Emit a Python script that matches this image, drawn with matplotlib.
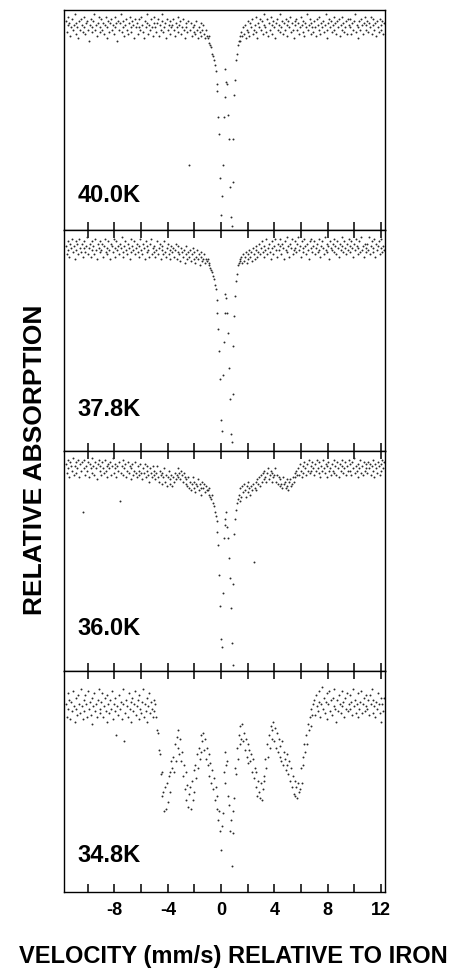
import numpy as np
import matplotlib
matplotlib.use("Agg")
from matplotlib import pyplot as plt

plt.rcParams['font.family'] = ['Liberation Sans', 'DejaVu Sans']
plt.rcParams['axes.unicode_minus'] = False

# velocity channels (mm/s): first channel and step
v_start = -11.65
v_step = 0.0665

temperatures = ['40.0K', '37.8K', '36.0K', '34.8K']

# relative transmission, % of panel height
t_400 = [
    96, 91, 94, 98, 95, 89, 93, 97, 92, 94, 99, 90, 95, 93, 88, 96, 92, 97, 94, 91,
    93, 98, 90, 95, 96, 92, 87, 94, 97, 93, 91, 96, 99, 92, 94, 89, 95, 98, 91, 93,
    97, 92, 95, 90, 94, 98, 93, 88, 96, 91, 95, 97, 92, 94, 90, 98, 93, 95, 87, 96,
    92, 95, 99, 91, 93, 96, 89, 94, 97, 92, 90, 95, 98, 93, 91, 96, 94, 88, 97, 93,
    95, 90, 93, 97, 92, 98, 94, 91, 88, 96, 93, 95, 99, 90, 94, 92, 97, 93, 89, 95,
    98, 93, 91, 95, 97, 89, 94, 92, 96, 99, 91, 93, 95, 88, 97, 92, 94, 96, 90, 93,
    94, 97, 92, 89, 95, 93, 98, 91, 94, 96, 90, 93, 97, 92, 88, 95, 93, 91, 96, 30,
    92, 95, 89, 93, 91, 94, 90, 96, 92, 88, 93, 91, 95, 89, 92, 94, 90, 88, 92, 89,
    88, 86, 89, 85, 84, 81, 80, 78, 76, 73, 67, 64, 52, 44, 24, 7, 16, 30, 52, 61,
    74, 68, 67, 53, 42, 20, 6, 2, 22, 42, 62, 69, 78, 81, 85, 87, 89, 87, 91, 89,
    93, 90, 94, 88, 92, 96, 91, 89, 95, 93, 97, 90, 92, 94, 98, 91, 88, 95, 93, 97,
    92, 96, 90, 94, 99, 93, 91, 97, 89, 95, 92, 98, 94, 90, 96, 93, 88, 95, 97, 92,
    94, 99, 91, 93, 96, 90, 95, 92, 97, 94, 89, 96, 93, 98, 91, 95, 92, 88, 96, 94,
    97, 92, 95, 90, 93, 98, 94, 91, 96, 89, 95, 93, 99, 92, 94, 97, 90, 95, 93, 91,
    96, 93, 89, 97, 94, 92, 98, 90, 95, 93, 96, 91, 94, 99, 92, 88, 95, 97, 93, 96,
    91, 94, 98, 92, 95, 90, 96, 93, 97, 89, 94, 92, 98, 95, 91, 93, 96, 90, 97, 94,
    93, 97, 90, 95, 92, 96, 99, 91, 94, 93, 88, 96, 92, 97, 94, 90, 95, 98, 92, 94,
    96, 91, 95, 93, 98, 90, 94, 97, 92, 95, 89, 96, 93, 91, 97, 94, 92, 96, 90, 95,
]

t_378 = [
    94, 90, 96, 92, 89, 95, 93, 97, 91, 94, 88, 96, 92, 95, 90, 97, 93, 91, 95, 89,
    93, 96, 91, 94, 98, 90, 93, 95, 89, 92, 96, 94, 90, 97, 92, 88, 95, 93, 91, 96,
    92, 95, 89, 94, 97, 91, 93, 90, 96, 92, 88, 95, 94, 91, 97, 93, 89, 96, 92, 94,
    90, 95, 93, 98, 91, 89, 94, 96, 92, 90, 95, 93, 88, 97, 91, 94, 92, 96, 90, 93,
    95, 91, 89, 94, 97, 92, 90, 95, 93, 88, 96, 91, 94, 92, 89, 95, 97, 90, 93, 91,
    94, 89, 92, 96, 90, 93, 95, 88, 92, 94, 90, 96, 91, 89, 93, 95, 90, 92, 88, 94,
    91, 93, 89, 92, 95, 88, 91, 94, 90, 87, 93, 91, 89, 92, 86, 90, 94, 88, 91, 89,
    92, 87, 90, 93, 88, 91, 86, 89, 92, 88, 90, 85, 89, 91, 87, 88, 90, 86, 88, 87,
    88, 86, 85, 84, 83, 82, 80, 79, 76, 74, 69, 63, 56, 46, 33, 14, 9, 35, 50, 63,
    72, 70, 63, 54, 38, 24, 8, 4, 26, 48, 62, 71, 78, 81, 85, 86, 87, 88, 89, 86,
    90, 87, 89, 91, 86, 90, 88, 92, 89, 91, 87, 93, 90, 88, 92, 94, 89, 91, 95, 90,
    93, 96, 91, 89, 94, 92, 97, 90, 93, 95, 91, 88, 96, 93, 90, 94, 97, 92, 89, 95,
    92, 97, 94, 90, 95, 93, 88, 96, 92, 98, 91, 94, 89, 95, 93, 97, 90, 92, 96, 93,
    91, 95, 98, 92, 94, 89, 96, 93, 91, 97, 94, 90, 95, 92, 88, 96, 93, 97, 91, 94,
    96, 90, 93, 95, 91, 97, 92, 89, 94, 96, 93, 90, 98, 92, 95, 91, 94, 88, 96, 93,
    92, 95, 97, 91, 94, 90, 96, 93, 89, 95, 92, 98, 94, 91, 96, 93, 90, 95, 92, 97,
    94, 91, 96, 93, 89, 95, 92, 97, 94, 90, 93, 96, 91, 98, 92, 94, 89, 95, 93, 91,
    95, 92, 98, 90, 94, 96, 91, 93, 97, 89, 95, 92, 94, 96, 90, 93, 97, 91, 94, 92,
]

t_360 = [
    95, 91, 97, 93, 89, 96, 94, 92, 98, 90, 94, 96, 91, 93, 97, 89, 95, 92, 96, 73,
    93, 97, 90, 94, 92, 96, 89, 95, 93, 98, 91, 94, 90, 96, 93, 88, 95, 97, 92, 94,
    90, 96, 93, 91, 97, 92, 94, 89, 95, 93, 96, 90, 94, 98, 91, 93, 95, 89, 94, 92,
    96, 78, 91, 94, 97, 90, 93, 95, 89, 92, 96, 91, 94, 88, 93, 95, 90, 92, 96, 91,
    89, 94, 92, 90, 95, 91, 88, 93, 91, 95, 89, 92, 94, 90, 87, 93, 91, 89, 94, 90,
    92, 88, 91, 94, 89, 87, 92, 90, 86, 91, 89, 93, 87, 90, 85, 89, 92, 86, 88, 90,
    85, 89, 87, 91, 88, 90, 93, 89, 91, 88, 92, 90, 87, 91, 89, 86, 88, 85, 89, 84,
    87, 83, 86, 89, 84, 87, 82, 86, 85, 88, 83, 86, 84, 81, 87, 84, 86, 82, 85, 83,
    83, 81, 84, 80, 79, 81, 77, 76, 73, 71, 69, 64, 58, 44, 30, 15, 11, 36, 61, 67,
    70, 73, 66, 61, 52, 43, 29, 13, 3, 40, 63, 70, 74, 77, 79, 81, 78, 84, 80, 85,
    82, 86, 83, 80, 85, 82, 87, 84, 81, 85, 83, 86, 50, 84, 87, 83, 88, 86, 89, 85,
    90, 87, 91, 88, 92, 89, 87, 91, 93, 88, 90, 92, 87, 91, 89, 90, 93, 87, 90, 86,
    89, 85, 88, 86, 84, 89, 86, 87, 84, 88, 85, 83, 87, 88, 85, 86, 89, 87, 91, 89,
    92, 90, 93, 90, 95, 92, 89, 94, 91, 96, 93, 90, 95, 92, 97, 91, 94, 92, 96, 93,
    90, 95, 92, 97, 93, 91, 96, 89, 94, 92, 97, 93, 91, 95, 89, 94, 96, 92, 93, 90,
    95, 92, 97, 91, 94, 90, 96, 93, 89, 95, 92, 97, 94, 91, 93, 96, 90, 94, 92, 97,
    92, 95, 90, 96, 93, 98, 91, 94, 92, 89, 95, 93, 97, 91, 94, 90, 96, 92, 95, 93,
    91, 96, 93, 95, 90, 94, 97, 92, 89, 95, 93, 91, 96, 94, 90, 95, 92, 97, 93, 96,
]

t_348 = [
    86, 80, 91, 84, 88, 79, 87, 83, 92, 85, 78, 89, 84, 81, 90, 86, 82, 93, 85, 79,
    88, 83, 90, 86, 80, 92, 84, 87, 81, 89, 77, 85, 91, 83, 86, 80, 88, 93, 84, 82,
    87, 91, 80, 85, 89, 83, 78, 90, 86, 82, 88, 84, 92, 79, 86, 83, 89, 72, 85, 81,
    90, 84, 87, 79, 93, 86, 69, 82, 88, 85, 80, 91, 84, 87, 78, 89, 83, 86, 92, 81,
    85, 88, 79, 90, 84, 82, 87, 93, 80, 86, 83, 89, 78, 85, 91, 82, 87, 84, 80, 88,
    83, 86, 80, 74, 73, 65, 63, 54, 55, 44, 46, 37, 48, 38, 50, 41, 53, 55, 46, 60,
    57, 62, 55, 68, 60, 71, 66, 74, 63, 70, 60, 64, 53, 58, 47, 55, 42, 49, 39, 45,
    48, 38, 51, 42, 56, 46, 58, 52, 63, 57, 66, 61, 72, 64, 69, 73, 65, 70, 61, 66,
    58, 63, 53, 59, 50, 56, 47, 52, 42, 48, 38, 44, 33, 37, 28, 19, 30, 36, 55, 50,
    64, 58, 60, 44, 40, 28, 33, 12, 27, 37, 43, 57, 54, 66, 61, 72, 68, 76, 70, 77,
    69, 73, 65, 70, 62, 68, 59, 65, 60, 63, 55, 61, 52, 57, 48, 55, 44, 51, 46, 43,
    50, 42, 47, 53, 51, 61, 57, 68, 62, 72, 66, 76, 70, 74, 78, 69, 75, 66, 73, 64,
    70, 62, 67, 60, 69, 58, 64, 61, 56, 63, 58, 54, 60, 51, 57, 48, 53, 45, 51, 44,
    48, 43, 50, 46, 47, 57, 50, 62, 58, 68, 64, 72, 68, 77, 74, 80, 76, 84, 81, 86,
    88, 81, 90, 85, 83, 92, 87, 80, 86, 94, 84, 89, 82, 87, 91, 79, 86, 92, 83, 88,
    81, 89, 85, 93, 84, 78, 88, 83, 90, 86, 82, 92, 85, 87, 80, 89, 84, 91, 83, 86,
    90, 84, 87, 81, 93, 85, 88, 82, 86, 80, 91, 84, 87, 92, 82, 86, 89, 83, 85, 90,
    84, 88, 81, 90, 86, 93, 82, 88, 85, 80, 87, 84, 91, 86, 82, 89, 78, 86, 83, 89,
]

spectra = [t_400, t_378, t_360, t_348]
label_y = [0.13, 0.16, 0.165, 0.135]

tick_pos = [-10, -8, -6, -4, -2, 0, 2, 4, 6, 8, 10, 12]
tick_lab = ['', '-8', '', '-4', '', '0', '', '4', '', '8', '', '12']

fig = plt.figure(figsize=(4.51, 9.69), dpi=100)
axs = fig.subplots(4, 1, sharex=True, gridspec_kw=dict(hspace=0))
fig.subplots_adjust(left=0.143, right=0.854, top=0.9897, bottom=0.0795)

for k, (ax, t) in enumerate(zip(axs, spectra)):
    v = v_start + v_step * np.arange(len(t))
    ax.plot(v, t, ls='none', marker='o', ms=1.4, mew=0, mfc='#2a2a2a')
    ax.set_ylim(0, 101)
    ax.set_xlim(-11.75, 12.3)
    ax.set_yticks([])
    for s in ax.spines.values():
        s.set_linewidth(1.0)
    ax.set_xticks(tick_pos)
    ax.tick_params(axis='x', direction='in', length=6, width=1.1,
                   top=(k > 0), bottom=True, labelbottom=(k == 3), pad=7)
    ax.text(0.04, label_y[k], temperatures[k], transform=ax.transAxes,
            fontsize=17, fontweight='bold', va='baseline', ha='left')

axs[-1].set_xticklabels(tick_lab, fontsize=13, fontweight='bold')

fig.text(0.517, 0.0124, 'VELOCITY (mm/s) RELATIVE TO IRON', ha='center', va='center',
         fontsize=17, fontweight='bold')
fig.text(0.0776, 0.525, 'RELATIVE ABSORPTION', ha='center', va='center',
         rotation=90, fontsize=19, fontweight='bold')

fig.savefig('out.png', dpi=100)
